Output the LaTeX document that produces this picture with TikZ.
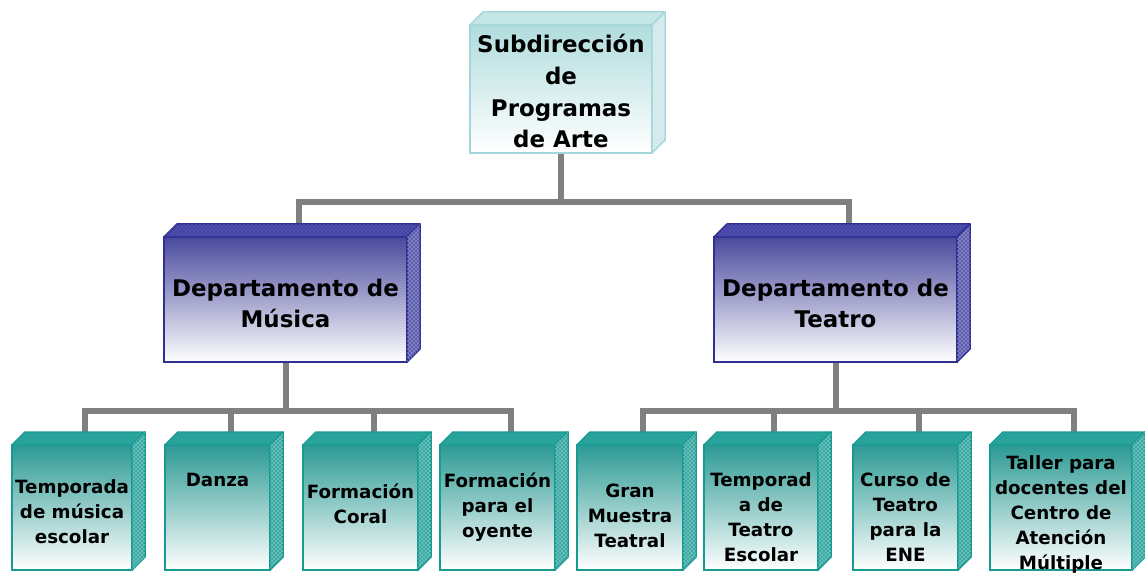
\documentclass[tikz,border=0pt]{standalone}
\usepackage{fontspec}
\setmainfont{DejaVu Sans}
\usetikzlibrary{calc,patterns,backgrounds}
\newlength\px \setlength\px{0.75pt}

\definecolor{linkgray}{HTML}{808080}
\definecolor{subedge}{HTML}{A3D6DA}
\definecolor{subtop}{HTML}{B0DCDD}
\definecolor{subface}{HTML}{C0E4E5}
\definecolor{subside}{HTML}{CFE9EA}
\definecolor{subdots}{HTML}{E2F3F3}
\definecolor{depedge}{HTML}{303094}
\definecolor{deptop}{HTML}{4A4A9E}
\definecolor{depface}{HTML}{4545A6}
\definecolor{depside}{HTML}{5C5CAE}
\definecolor{depdots}{HTML}{6A6AB8}
\definecolor{kidedge}{HTML}{179A92}
\definecolor{kidtop}{HTML}{2C9A94}
\definecolor{kidface}{HTML}{24A199}
\definecolor{kidside}{HTML}{3CAAA4}
\definecolor{kiddots}{HTML}{4DB5AF}

\tikzset{
  link/.style={draw=linkgray, line width=6\px},
  unitbox/.style={draw, line width=1.5\px, outer sep=0pt, inner sep=0pt, align=center,
    text height=0pt, text depth=0pt},
  subbox/.style={unitbox, draw=subedge, top color=subtop, bottom color=white,
    minimum width=182\px, minimum height=128\px,
    font=\fontsize{17.2}{23.75}\selectfont\bfseries},
  depbox/.style={unitbox, draw=depedge, top color=deptop, bottom color=white,
    minimum width=243\px, minimum height=125\px,
    font=\fontsize{17.2}{23.5}\selectfont\bfseries},
  kidbox/.style={unitbox, draw=kidedge, top color=kidtop, bottom color=white,
    minimum height=125\px,
    font=\fontsize{13.7}{18.75}\selectfont\bfseries},
  topface/.style={draw=#1edge, fill=#1face, line width=1.5\px, line join=round,
    postaction={pattern=crosshatch dots, pattern color=#1dots}},
  sideface/.style={draw=#1edge, fill=#1side, line width=1.5\px, line join=round,
    postaction={pattern=crosshatch dots, pattern color=white}}
}

\begin{document}
\begin{tikzpicture}[x=1\px, y=-1\px]
  \useasboundingbox (0,0) rectangle (1145,573);

  % Boxes (text height/depth place the last baseline)
  \node[subbox, text height=118\px] (sub) at (561,89) {Subdirección\\de\\Programas\\de Arte};
  \node[depbox, text height=57\px] (mus) at (285.5,299.5) {Departamento de\\Música};
  \node[depbox, text height=57\px] (tea) at (835.5,299.5) {Departamento de\\Teatro};

  \foreach \n/\x/\w/\h/\d/\txt in {tmp/72/120/71/0/{Temporada\\de música\\escolar},
      dan/217.5/105/0/43/{Danza},
      cor/360.5/115/31/0/{Formación\\Coral}, oye/497.5/115/59/0/{Formación\\para el\\oyente},
      gra/630/106/79/0/{Gran\\Muestra\\Teatral},
      tte/761/114/107/0/{Temporad\\a de\\Teatro\\Escolar},
      cur/905.5/105/107/0/{Curso de\\Teatro\\para la\\ENE},
      tal/1061/142/123/0/{Taller para\\docentes del\\Centro de\\Atención\\Múltiple}}
    \node[kidbox, minimum width=\w\px, text height=\h\px, text depth=\d\px] (\n)
      at (\x,507.5) {\txt};

  % 3D faces
  \foreach \n/\s in {sub/sub, mus/dep, tea/dep, tmp/kid, dan/kid, cor/kid, oye/kid,
      gra/kid, tte/kid, cur/kid, tal/kid} {
    \filldraw[topface=\s] (\n.north west) -- ++(13,-13) -- ($(\n.north east)+(13,-13)$)
      -- (\n.north east) -- cycle;
    \filldraw[sideface=\s] (\n.north east) -- ++(13,-13) -- ($(\n.south east)+(13,-13)$)
      -- (\n.south east) -- cycle;
  }

  % Connectors
  \begin{scope}[on background layer]
    \draw[link] (sub.south) -- ++(0,49) coordinate (subbus) -| ($(mus.north)+(13,-13)$);
    \draw[link] (subbus) -| ($(tea.north)+(13,-13)$);
    \draw[link] (mus.south) -- ++(0,49) coordinate (musbus);
    \draw[link] (tea.south) -- ++(0,49) coordinate (teabus);
    \foreach \c in {tmp,dan,cor,oye}
      \draw[link] (musbus) -| ($(\c.north)+(13,-13)$);
    \foreach \c in {gra,tte,cur,tal}
      \draw[link] (teabus) -| ($(\c.north)+(13,-13)$);
  \end{scope}
\end{tikzpicture}
\end{document}
